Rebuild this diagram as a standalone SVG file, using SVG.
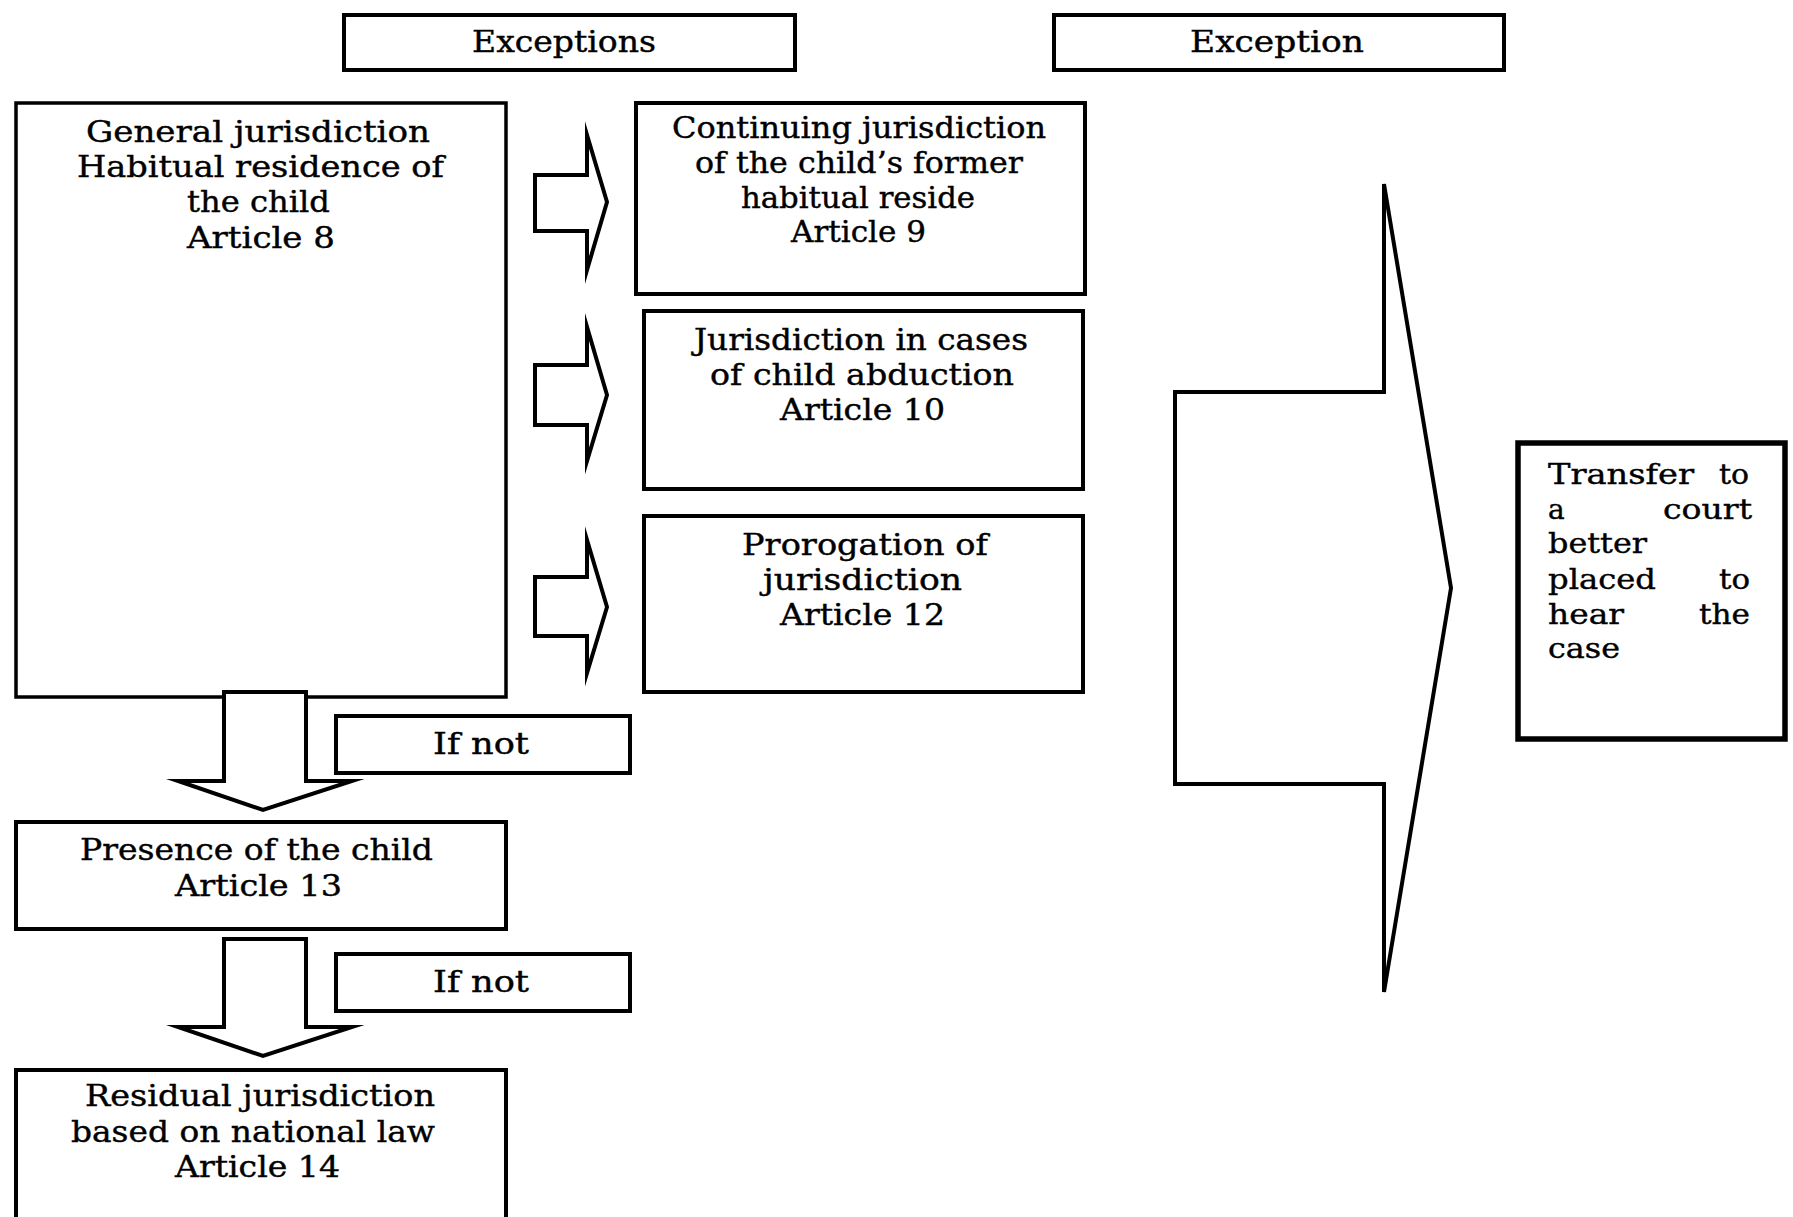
<svg xmlns="http://www.w3.org/2000/svg" width="1793" height="1217" viewBox="0 0 1793 1217">
<style>
.box{fill:#fff;stroke:#000;stroke-width:4}
.thin{stroke-width:3.5}
.thick{stroke-width:5.5}
.arr{fill:#fff;stroke:#000;stroke-width:4;stroke-linejoin:miter;stroke-miterlimit:10}
text{font-family:"DejaVu Serif","Liberation Serif",serif;font-size:29px;fill:#000;stroke:#000;stroke-width:0.4}
.tr{font-size:28px}
</style>
<rect width="1793" height="1217" fill="#fff"/>
<g id="exceptions">
<rect class="box" x="344" y="15" width="451" height="55"/>
<text x="472" y="52" textLength="184" lengthAdjust="spacingAndGlyphs">Exceptions</text>
</g>
<g id="exception">
<rect class="box" x="1054" y="15" width="450" height="55"/>
<text x="1190" y="52" textLength="174" lengthAdjust="spacingAndGlyphs">Exception</text>
</g>
<g id="general">
<rect class="box thin" x="16" y="103" width="490" height="594"/>
<text x="86" y="142" textLength="344" lengthAdjust="spacingAndGlyphs">General jurisdiction</text>
<text x="77" y="177" textLength="367" lengthAdjust="spacingAndGlyphs">Habitual residence of</text>
<text x="187" y="212" textLength="143" lengthAdjust="spacingAndGlyphs">the child</text>
<text x="187" y="248" textLength="148" lengthAdjust="spacingAndGlyphs">Article 8</text>
</g>
<g id="continuing">
<rect class="box" x="636" y="103" width="449" height="191"/>
<text x="672" y="138" textLength="374" lengthAdjust="spacingAndGlyphs">Continuing jurisdiction</text>
<text x="695" y="173" textLength="328" lengthAdjust="spacingAndGlyphs">of the child’s former</text>
<text x="741" y="208" textLength="234" lengthAdjust="spacingAndGlyphs">habitual reside</text>
<text x="791" y="242" textLength="135" lengthAdjust="spacingAndGlyphs">Article 9</text>
</g>
<g id="abduction">
<rect class="box" x="644" y="311" width="439" height="178"/>
<text x="694" y="350" textLength="334" lengthAdjust="spacingAndGlyphs">Jurisdiction in cases</text>
<text x="710" y="385" textLength="304" lengthAdjust="spacingAndGlyphs">of child abduction</text>
<text x="780" y="420" textLength="165" lengthAdjust="spacingAndGlyphs">Article 10</text>
</g>
<g id="prorogation">
<rect class="box" x="644" y="516" width="439" height="176"/>
<text x="742" y="555" textLength="246" lengthAdjust="spacingAndGlyphs">Prorogation of</text>
<text x="763" y="590" textLength="199" lengthAdjust="spacingAndGlyphs">jurisdiction</text>
<text x="780" y="625" textLength="165" lengthAdjust="spacingAndGlyphs">Article 12</text>
</g>
<g id="ifnot1">
<rect class="box" x="336" y="716" width="294" height="57"/>
<text x="433" y="754" textLength="96" lengthAdjust="spacingAndGlyphs">If not</text>
</g>
<g id="presence">
<rect class="box" x="16" y="822" width="490" height="107"/>
<text x="80" y="860" textLength="353" lengthAdjust="spacingAndGlyphs">Presence of the child</text>
<text x="175" y="896" textLength="167" lengthAdjust="spacingAndGlyphs">Article 13</text>
</g>
<g id="ifnot2">
<rect class="box" x="336" y="954" width="294" height="57"/>
<text x="433" y="992" textLength="96" lengthAdjust="spacingAndGlyphs">If not</text>
</g>
<g id="residual">
<rect class="box" x="16" y="1070" width="490" height="170"/>
<text x="85" y="1106" textLength="350" lengthAdjust="spacingAndGlyphs">Residual jurisdiction</text>
<text x="71" y="1142" textLength="364" lengthAdjust="spacingAndGlyphs">based on national law</text>
<text x="175" y="1177" textLength="165" lengthAdjust="spacingAndGlyphs">Article 14</text>
</g>
<g id="transfer">
<rect class="box thick" x="1518" y="443" width="267" height="296"/>
<text class="tr" x="1548" y="484" textLength="146" lengthAdjust="spacingAndGlyphs">Transfer</text>
<text class="tr" x="1719" y="484" textLength="30" lengthAdjust="spacingAndGlyphs">to</text>
<text class="tr" x="1548" y="519">a</text>
<text class="tr" x="1663" y="519" textLength="89" lengthAdjust="spacingAndGlyphs">court</text>
<text class="tr" x="1548" y="553" textLength="99" lengthAdjust="spacingAndGlyphs">better</text>
<text class="tr" x="1548" y="589" textLength="108" lengthAdjust="spacingAndGlyphs">placed</text>
<text class="tr" x="1719" y="589" textLength="31" lengthAdjust="spacingAndGlyphs">to</text>
<text class="tr" x="1548" y="624" textLength="76" lengthAdjust="spacingAndGlyphs">hear</text>
<text class="tr" x="1699" y="624" textLength="51" lengthAdjust="spacingAndGlyphs">the</text>
<text class="tr" x="1548" y="658" textLength="72" lengthAdjust="spacingAndGlyphs">case</text>
</g>
<g id="connectors">
<polygon class="arr" points="535,175 587,175 587,135 607,202 587,270 587,231 535,231"/>
<polygon class="arr" points="535,365 587,365 587,327 607,395 587,461 587,425 535,425"/>
<polygon class="arr" points="535,577 587,577 587,540 607,607 587,673 587,636 535,636"/>
<polygon class="arr" points="224,692 306,692 306,781 352,781 263,810 178,781 224,781"/>
<polygon class="arr" points="224,939 306,939 306,1027 352,1027 263,1056 178,1027 224,1027"/>
<polygon class="arr" points="1175,392 1384,392 1384,184 1451,588 1384,992 1384,784 1175,784"/>
</g>
</svg>
